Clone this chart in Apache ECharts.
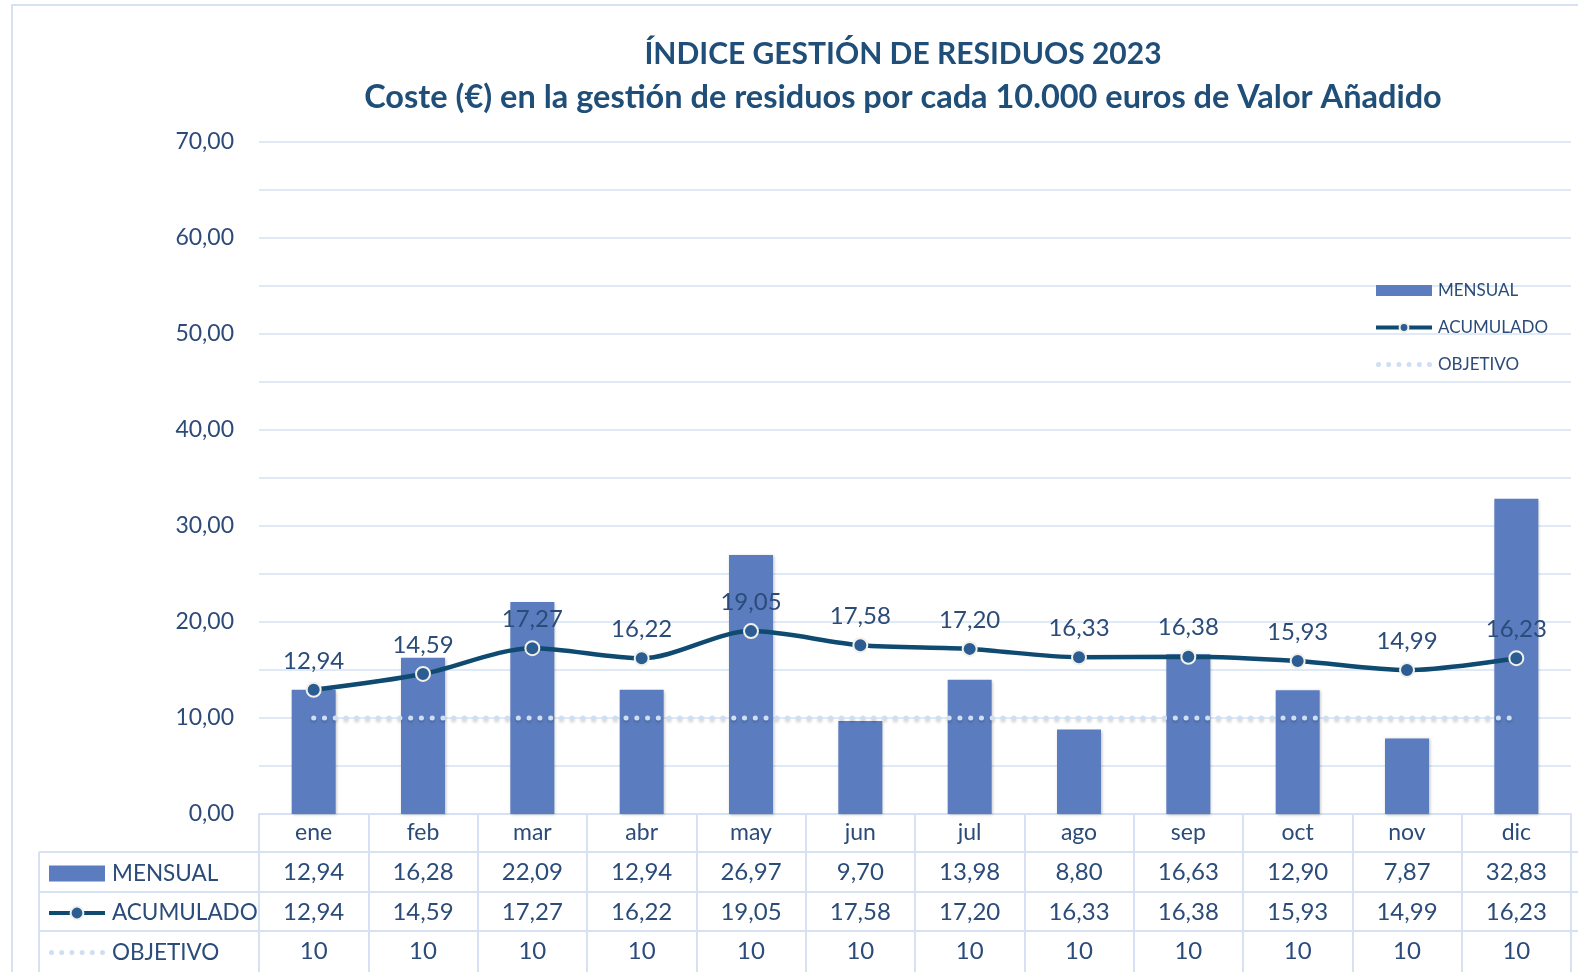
<!DOCTYPE html>
<html>
<head>
<meta charset="utf-8">
<script src="https://cdn.jsdelivr.net/npm/echarts@6/dist/echarts.min.js"></script>
<style>
  html, body { margin: 0; padding: 0; background: #fff; }
  #main { width: 1578px; height: 972px; }
</style>
</head>
<body>
<div id="main"></div>
<script>
// datos
var meses = ['ene', 'feb', 'mar', 'abr', 'may', 'jun', 'jul', 'ago', 'sep', 'oct', 'nov', 'dic'];
var mensual = [12.94, 16.28, 22.09, 12.94, 26.97, 9.70, 13.98, 8.80, 16.63, 12.90, 7.87, 32.83];
var acumulado = [12.94, 14.59, 17.27, 16.22, 19.05, 17.58, 17.20, 16.33, 16.38, 15.93, 14.99, 16.23];
var objetivo = [10, 10, 10, 10, 10, 10, 10, 10, 10, 10, 10, 10];

var azulTexto = '#2b4b78';
var azulLinea = '#d6e2f3';
var fuente = 'Lato';

function fmt(v) {
    return v.toFixed(2).replace('.', ',');
}

// icono punteado para la leyenda (6 puntos)
var iconoPuntos = 'path://';
for (var k = 0; k < 6; k++) {
    var cx = 2.5 + k * 10.2;
    iconoPuntos += 'M' + cx + ',0A2.5,2.5,0,1,1,' + cx + ',5A2.5,2.5,0,1,1,' + cx + ',0Z';
}

// fila de la tabla bajo el eje X
function filaTabla(valores, offset, decimales) {
    return {
        type: 'category',
        gridIndex: 0,
        position: 'bottom',
        offset: offset,
        data: meses,
        axisLine: { show: false },
        axisTick: { show: false },
        axisLabel: {
            margin: 8,
            interval: 0,
            color: azulTexto,
            fontSize: 24,
            fontFamily: fuente,
            formatter: function (v, i) {
                return decimales ? fmt(valores[i]) : String(valores[i]);
            }
        }
    };
}

var myChart = echarts.init(document.getElementById('main'));

var option = {
    animation: false,
    textStyle: { fontFamily: fuente },
    title: {
        text: '{a|ÍNDICE GESTIÓN DE RESIDUOS 2023}\n{b|Coste (€) en la gestión de residuos por cada 10.000 euros de Valor Añadido}',
        left: 903,
        top: 33,
        padding: 0,
        textAlign: 'center',
        textStyle: {
            color: '#1f4e79',
            fontWeight: 'bold',
            fontFamily: fuente,
            rich: {
                a: { color: '#1f4e79', fontSize: 30, fontWeight: 'bold', fontFamily: fuente, lineHeight: 43, align: 'center' },
                b: { color: '#1f4e79', fontSize: 32.5, fontWeight: 'bold', fontFamily: fuente, lineHeight: 43, align: 'center' }
            }
        }
    },
    grid: [
        { left: 259, right: 7, top: 142, bottom: 158 },
        { left: 259, right: 7, top: 814, bottom: 0 }
    ],
    legend: [
        {
            orient: 'vertical',
            left: 1374,
            top: 282,
            padding: 0,
            itemWidth: 56,
            itemHeight: 11,
            itemGap: 20,
            lineStyle: { width: 4 },
            data: [
                { name: 'MENSUAL', icon: 'rect' },
                { name: 'ACUMULADO' },
                { name: 'OBJETIVO', icon: iconoPuntos }
            ],
            textStyle: { color: azulTexto, fontSize: 17, lineHeight: 17, padding: [0, 0, 0, 1] }
        },
        {
            orient: 'vertical',
            left: 47,
            top: 862,
            padding: 0,
            itemWidth: 56,
            itemHeight: 16,
            itemGap: 16.5,
            lineStyle: { width: 4 },
            data: [
                { name: 'MENSUAL', icon: 'rect' },
                { name: 'ACUMULADO' },
                { name: 'OBJETIVO', icon: iconoPuntos }
            ],
            textStyle: { color: azulTexto, fontSize: 22.5, lineHeight: 23, padding: [0, 0, 0, 2] }
        }
    ],
    xAxis: [
        {
            type: 'category',
            gridIndex: 0,
            data: meses,
            axisLine: { lineStyle: { color: azulLinea, width: 2 } },
            axisTick: { show: false },
            axisLabel: { margin: 7, interval: 0, color: azulTexto, fontSize: 23, fontFamily: fuente }
        },
        filaTabla(mensual, 38, true),
        filaTabla(acumulado, 78, true),
        filaTabla(objetivo, 117, false),
        {
            type: 'category',
            gridIndex: 1,
            data: meses,
            axisLine: { show: false },
            axisTick: { show: false },
            axisLabel: { show: false },
            splitLine: { show: true, lineStyle: { color: azulLinea, width: 2 } }
        }
    ],
    yAxis: [
        {
            type: 'value',
            gridIndex: 0,
            min: 0,
            max: 70,
            interval: 5,
            axisLine: { show: false },
            axisTick: { show: false },
            axisLabel: {
                margin: 25,
                color: azulTexto,
                fontSize: 23,
                fontFamily: fuente,
                formatter: function (v) {
                    return v % 10 === 0 ? fmt(v) : '';
                }
            },
            splitLine: { lineStyle: { color: azulLinea, width: 1.5 } }
        },
        {
            type: 'value',
            gridIndex: 1,
            show: false
        }
    ],
    graphic: [
        // marco
        { type: 'rect', shape: { x: 12, y: 5, width: 1700, height: 1100 }, style: { fill: null, stroke: azulLinea, lineWidth: 2 } },
        // bordes de la tabla
        { type: 'line', shape: { x1: 39, y1: 852, x2: 1578, y2: 852 }, style: { stroke: azulLinea, lineWidth: 2 } },
        { type: 'line', shape: { x1: 39, y1: 892, x2: 1578, y2: 892 }, style: { stroke: azulLinea, lineWidth: 2 } },
        { type: 'line', shape: { x1: 39, y1: 931, x2: 1578, y2: 931 }, style: { stroke: azulLinea, lineWidth: 2 } },
        { type: 'line', shape: { x1: 39, y1: 852, x2: 39, y2: 972 }, style: { stroke: azulLinea, lineWidth: 2 } }
    ],
    series: [
        {
            name: 'MENSUAL',
            type: 'bar',
            xAxisIndex: 0,
            yAxisIndex: 0,
            barWidth: 44,
            itemStyle: {
                color: '#5b7cbf',
                shadowColor: 'rgba(0,0,0,0.25)',
                shadowBlur: 3,
                shadowOffsetX: 1,
                shadowOffsetY: 1
            },
            data: mensual,
            z: 2
        },
        {
            name: 'OBJETIVO',
            type: 'line',
            xAxisIndex: 0,
            yAxisIndex: 0,
            symbol: 'none',
            lineStyle: {
                color: '#cfdff2',
                width: 5,
                type: [0.1, 10.67],
                cap: 'round',
                shadowColor: 'rgba(0,0,0,0.18)',
                shadowBlur: 3,
                shadowOffsetY: 2
            },
            itemStyle: { color: '#cfdff2' },
            data: objetivo,
            z: 3
        },
        {
            name: 'ACUMULADO',
            type: 'line',
            xAxisIndex: 0,
            yAxisIndex: 0,
            smooth: 0.3,
            symbol: 'circle',
            symbolSize: 14,
            lineStyle: { color: '#0f4a71', width: 4.5 },
            itemStyle: { color: '#2b5d93', borderColor: '#f1f1ea', borderWidth: 2 },
            label: {
                show: true,
                position: 'top',
                distance: 9,
                color: azulTexto,
                fontSize: 24,
                fontFamily: fuente,
                formatter: function (p) { return fmt(p.value); }
            },
            data: acumulado,
            z: 4
        }
    ]
};

myChart.setOption(option);
</script>
</body>
</html>
